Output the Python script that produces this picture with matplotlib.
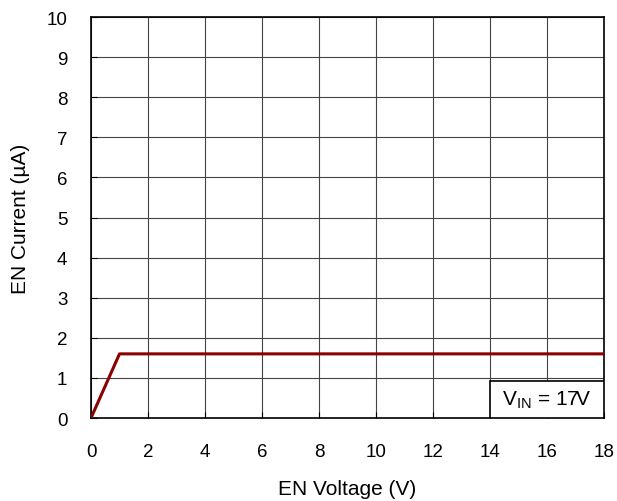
import numpy as np
import matplotlib.pyplot as plt
from matplotlib.patches import Rectangle

plt.rcParams['font.family'] = ['Liberation Sans', 'DejaVu Sans']

# EN current vs EN voltage
en_voltage = [0, 1.0, 18]
en_current = [0, 1.6, 1.6]

fig = plt.figure(figsize=(6.17, 5.02), dpi=100)
ax = fig.add_axes([0.1475, 0.1653, 0.8315, 0.7987])

ax.plot(en_voltage, en_current, color='#8B0000', lw=2.2, solid_capstyle='butt', zorder=3)

ax.set_xlim(0, 18)
ax.set_ylim(0, 10)
ax.set_xticks(np.arange(0, 19, 2))
ax.set_yticks(np.arange(0, 11, 1))
ax.grid(True, color='#444444', lw=0.8)
ax.tick_params(direction='in', length=4, labelsize=13.5, width=0.8)
ax.tick_params(axis='x', pad=18)
ax.tick_params(axis='y', pad=17)
for s in ax.spines.values():
    s.set_linewidth(1.2)

ax.set_xlabel('EN Voltage (V)', fontsize=15, labelpad=14)
ax.set_ylabel('EN Current (µA)', fontsize=15, labelpad=12)

# annotation box in lower right corner
box = Rectangle((0.778, 0.0), 0.222, 0.093, transform=ax.transAxes,
                fc='white', ec='black', lw=1.2, zorder=5)
ax.add_patch(box)
ax.text(0.889, 0.046, r'V$_{\mathregular{IN}}$ = 17V', transform=ax.transAxes,
        ha='center', va='center', fontsize=15, zorder=6)

fig.savefig('out.png', dpi=100)
